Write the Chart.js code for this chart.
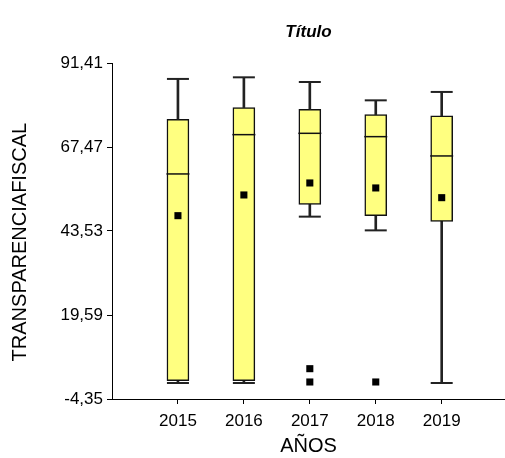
<!DOCTYPE html>
<html>
<head>
<meta charset="utf-8">
<script src="https://cdn.jsdelivr.net/npm/chart.js@4"></script>
<style>
html,body{margin:0;padding:0;background:#fff;}
#wrap{width:505px;height:458px;}
</style>
</head>
<body>
<div id="wrap"><canvas id="c" width="505" height="458"></canvas></div>
<script>
const categories = ['2015', '2016', '2017', '2018', '2019'];
const whiskerLow  = [0.21, 0.21, 47.62, 43.71, 0.21];
const q1          = [0.87, 0.87, 51.12, 47.90, 46.28];
const median      = [59.79, 70.99, 71.37, 70.42, 64.92];
const q3          = [75.35, 78.69, 78.20, 76.69, 76.32];
const whiskerHigh = [86.87, 87.33, 86.00, 80.77, 83.16];
const means       = [47.90, 53.80, 57.22, 55.80, 53.03];
const outliers    = [[], [], [4.29, 0.50], [0.50], []];
const yTicks = [-4.35, 19.59, 43.53, 67.47, 91.41];

const xs = categories.map(Number);
const FONT = 'Arial, "Liberation Sans", sans-serif';
Chart.defaults.font.family = FONT;
Chart.defaults.color = '#000';

const boxData = xs.map((x, i) => ({x: x, y: [q1[i], q3[i]]}));
const upperWhisker = xs.map((x, i) => ({x: x, y: [q3[i], whiskerHigh[i]]}));
const lowerWhisker = xs.map((x, i) => ({x: x, y: [whiskerLow[i], q1[i]]}));
const caps = [];
xs.forEach((x, i) => { caps.push({x: x, y: whiskerHigh[i]}); caps.push({x: x, y: whiskerLow[i]}); });
const medianPts = xs.map((x, i) => ({x: x, y: median[i]}));
const meanPts = xs.map((x, i) => ({x: x, y: means[i]}));
const outlierPts = [];
xs.forEach((x, i) => outliers[i].forEach(v => outlierPts.push({x: x, y: v})));

new Chart(document.getElementById('c'), {
  type: 'bar',
  data: {
    datasets: [
      {type: 'bar', data: boxData, backgroundColor: 'rgb(255,255,128)', borderColor: '#111', borderWidth: 1.5,
       borderSkipped: false, barThickness: 22, grouped: false, order: 5},
      {type: 'bar', data: upperWhisker, backgroundColor: '#222', borderWidth: 0, barThickness: 2, grouped: false, order: 4},
      {type: 'bar', data: lowerWhisker, backgroundColor: '#222', borderWidth: 0, barThickness: 2, grouped: false, order: 6},
      {type: 'scatter', data: caps, pointStyle: 'line', pointRadius: 11, borderColor: '#222', borderWidth: 2, order: 3},
      {type: 'scatter', data: medianPts, pointStyle: 'line', pointRadius: 11.5, borderColor: '#111', borderWidth: 1.5, order: 2},
      {type: 'scatter', data: meanPts, pointStyle: 'rect', pointRadius: 5, backgroundColor: '#000', borderWidth: 0, order: 1},
      {type: 'scatter', data: outlierPts, pointStyle: 'rect', pointRadius: 5, backgroundColor: '#000', borderWidth: 0, order: 1}
    ]
  },
  options: {
    responsive: false,
    animation: false,
    layout: {autoPadding: false, padding: {top: 0, right: 0, bottom: 0, left: 0}},
    plugins: {
      legend: {display: false},
      tooltip: {enabled: false},
      title: {
        display: true, text: 'Título', fullSize: false,
        font: {size: 17, weight: 'bold', style: 'italic', family: FONT},
        color: '#000', padding: {top: 22, bottom: 20.6}
      }
    },
    scales: {
      x: {
        type: 'linear', min: 2014, max: 2019.96, offset: false,
        afterBuildTicks: (axis) => { axis.ticks = xs.map(v => ({value: v})); },
        afterFit: (axis) => { axis.height = 59; axis.paddingLeft = 0; axis.paddingRight = 0; },
        ticks: {callback: (v) => String(v), font: {size: 17}, color: '#000', padding: 7, maxRotation: 0, autoSkip: false},
        grid: {display: true, drawOnChartArea: false, drawTicks: true, tickLength: 5, tickColor: '#000', tickWidth: 1, offset: false},
        border: {display: true, color: '#000', width: 1},
        title: {display: true, text: 'AÑOS', font: {size: 20}, color: '#000', padding: {top: 0, bottom: 0}}
      },
      y: {
        type: 'linear', min: -4.35, max: 91.41,
        afterBuildTicks: (axis) => { axis.ticks = yTicks.map(v => ({value: v})); },
        afterFit: (axis) => { axis.width = 112; },
        ticks: {callback: (v) => v.toFixed(2).replace('.', ','), font: {size: 17}, color: '#000', padding: 4, autoSkip: false},
        grid: {display: true, drawOnChartArea: false, drawTicks: true, tickLength: 5, tickColor: '#000', tickWidth: 1},
        border: {display: true, color: '#000', width: 1},
        title: {display: true, text: 'TRANSPARENCIAFISCAL    ', font: {size: 20}, color: '#000', padding: {top: 8, bottom: 0}}
      }
    }
  }
});
</script>
</body>
</html>
